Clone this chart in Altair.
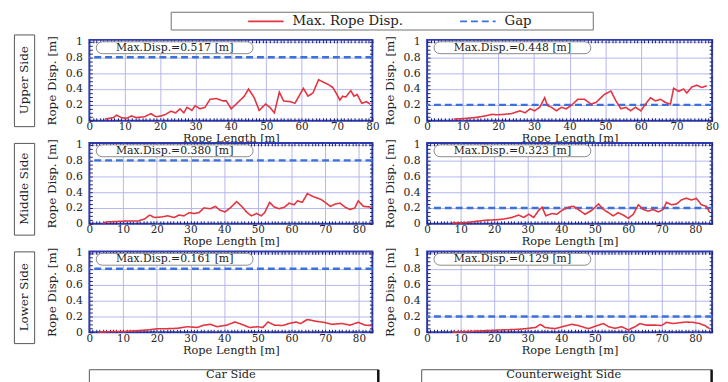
import altair as alt
import pandas as pd

FONT = "DejaVu Serif"
RED = "#e3343f"
GAPC = "#3b72d9"
FRAME = "#2f3db4"
GRID = "#b4b6ee"
NAVY = "#1d1f6b"
TXT = "#222222"

# ---------------- data ----------------
series_names = ["Max. Rope Disp.", "Gap"]
row_labels = ["Upper Side", "Middle Side", "Lower Side"]
col_labels = ["Car Side", "Counterweight Side"]
max_disp = [["0.517", "0.448"], ["0.380", "0.323"], ["0.161", "0.129"]]
gap_values = [0.8, 0.2]
x_max = [[80, 80], [84, 85], [84, 85]]
x_ticks = [0, 10, 20, 30, 40, 50, 60, 70, 80]
y_ticks = [0, 0.2, 0.4, 0.6, 0.8, 1.0]
Y_MAX = 1.02

ul_len = [4.4, 6.8, 7.7, 9.0, 10.5, 11.9, 13.2, 15.6, 17.4, 18.8, 20.2, 21.6, 23.0, 24.4, 25.6,
          26.7, 27.6, 29.0, 29.9, 31.3, 32.7, 34.1, 35.9, 37.8, 38.7, 40.1, 41.5, 43.8, 45.0,
          46.6, 48.0, 49.8, 51.0, 52.3, 53.7, 54.9, 56.8, 58.1, 59.5, 60.5, 61.8, 63.2, 64.8,
          66.0, 67.4, 68.8, 70.0, 70.8, 71.6, 72.5, 73.9, 74.8, 75.7, 77.0, 78.3, 79.4]
ul_disp = [0.02, 0.04, 0.07, 0.04, 0.03, 0.06, 0.04, 0.05, 0.09, 0.05, 0.06, 0.08, 0.12, 0.10, 0.15,
           0.10, 0.17, 0.13, 0.19, 0.15, 0.17, 0.27, 0.28, 0.25, 0.25, 0.15, 0.21, 0.31, 0.40,
           0.29, 0.13, 0.21, 0.17, 0.10, 0.36, 0.25, 0.24, 0.22, 0.33, 0.41, 0.31, 0.35, 0.517,
           0.49, 0.46, 0.42, 0.33, 0.26, 0.31, 0.30, 0.38, 0.31, 0.33, 0.22, 0.24, 0.21]

ur_len = [7.5, 10.8, 13.5, 16.3, 18.2, 19.6, 21.4, 23.7, 26.1, 27.5, 28.9, 30.2, 31.6, 33.0, 33.8,
          34.9, 36.3, 37.7, 39.0, 40.4, 42.3, 44.2, 46.0, 47.4, 49.7, 51.6, 53.0, 54.4, 55.8,
          57.1, 58.5, 60.0, 61.3, 62.7, 64.1, 65.5, 66.9, 68.3, 69.2, 70.6, 72.0, 72.9, 74.3,
          75.7, 77.1, 78.5]
ur_disp = [0.02, 0.03, 0.04, 0.06, 0.08, 0.075, 0.08, 0.09, 0.125, 0.10, 0.15, 0.125, 0.17, 0.29, 0.19,
           0.17, 0.125, 0.17, 0.15, 0.19, 0.27, 0.27, 0.21, 0.23, 0.33, 0.375, 0.25, 0.15, 0.17,
           0.125, 0.17, 0.125, 0.21, 0.29, 0.25, 0.27, 0.23, 0.21, 0.41, 0.37, 0.40, 0.35, 0.425,
           0.448, 0.42, 0.44]

ml_len = [4.0, 5.7, 8.6, 11.5, 14.4, 16.4, 17.9, 19.3, 21.3, 23.2, 25.2, 26.6, 28.1, 29.6, 31.0,
          32.5, 34.0, 35.9, 37.4, 38.8, 40.3, 41.8, 43.7, 45.2, 46.6, 48.1, 49.6, 51.0, 52.0,
          53.5, 54.9, 56.4, 57.9, 59.3, 60.8, 61.8, 63.2, 64.7, 66.6, 68.6, 70.0, 71.5, 73.0,
          74.4, 75.9, 77.4, 78.8, 79.8, 81.3, 83.7]
ml_disp = [0.01, 0.025, 0.03, 0.035, 0.035, 0.06, 0.11, 0.08, 0.085, 0.10, 0.08, 0.11, 0.10, 0.14, 0.13,
           0.14, 0.20, 0.19, 0.22, 0.17, 0.15, 0.20, 0.28, 0.22, 0.15, 0.10, 0.13, 0.10, 0.14,
           0.27, 0.21, 0.19, 0.21, 0.26, 0.24, 0.29, 0.27, 0.38, 0.34, 0.31, 0.27, 0.22, 0.25,
           0.26, 0.21, 0.18, 0.20, 0.29, 0.22, 0.21]

mr_len = [7.5, 11.5, 14.5, 17.4, 20.4, 22.9, 25.3, 27.3, 28.8, 30.3, 31.8, 33.3, 34.3, 35.4, 37.2,
          38.7, 40.2, 42.2, 43.7, 45.1, 47.1, 49.1, 51.1, 52.6, 54.1, 55.5, 57.0, 58.5, 60.0,
          61.5, 63.0, 64.5, 65.9, 67.4, 68.9, 70.4, 71.4, 72.9, 74.4, 75.8, 77.3, 78.8, 80.3,
          81.8, 83.3, 84.3]
mr_disp = [0.01, 0.015, 0.03, 0.045, 0.05, 0.06, 0.08, 0.11, 0.08, 0.12, 0.08, 0.17, 0.21, 0.10, 0.13,
           0.12, 0.17, 0.21, 0.22, 0.18, 0.12, 0.17, 0.25, 0.18, 0.14, 0.10, 0.14, 0.11, 0.07,
           0.12, 0.24, 0.18, 0.16, 0.18, 0.15, 0.18, 0.27, 0.24, 0.25, 0.30, 0.323, 0.30, 0.32,
           0.24, 0.22, 0.14]

ll_len = [2.7, 6.6, 10.5, 14.4, 17.4, 20.3, 23.2, 26.1, 29.1, 32.0, 34.0, 35.9, 37.9, 40.8, 43.2,
          45.2, 47.6, 50.0, 51.5, 53.0, 54.9, 57.4, 59.3, 61.3, 62.7, 64.7, 67.1, 69.6, 72.0,
          74.9, 77.4, 79.8, 81.8, 83.7]
ll_disp = [0.0, 0.01, 0.01, 0.02, 0.03, 0.045, 0.045, 0.05, 0.07, 0.06, 0.09, 0.10, 0.07, 0.09, 0.13,
           0.10, 0.06, 0.07, 0.06, 0.13, 0.09, 0.085, 0.11, 0.13, 0.11, 0.161, 0.14, 0.125, 0.10,
           0.11, 0.09, 0.125, 0.09, 0.085]

lr_len = [7.5, 12.5, 17.4, 22.4, 26.3, 29.3, 32.3, 33.8, 35.2, 38.2, 40.2, 43.2, 45.1, 48.1, 51.1,
          52.6, 54.1, 56.0, 58.0, 60.0, 62.0, 63.5, 65.4, 67.9, 69.9, 71.4, 73.4, 75.3, 77.3,
          79.3, 81.3, 82.8, 84.3]
lr_disp = [0.0, 0.01, 0.02, 0.03, 0.035, 0.045, 0.06, 0.10, 0.06, 0.045, 0.07, 0.10, 0.085, 0.045, 0.09,
           0.11, 0.07, 0.05, 0.07, 0.03, 0.07, 0.11, 0.09, 0.09, 0.085, 0.125, 0.11, 0.12, 0.129,
           0.125, 0.11, 0.085, 0.045]

len_data = [[ul_len, ur_len], [ml_len, mr_len], [ll_len, lr_len]]
disp_data = [[ul_disp, ur_disp], [ml_disp, mr_disp], [ll_disp, lr_disp]]

# ---------------- layout ----------------
PANEL_W = [287, 289]
PANEL_H = 82
LABEL_W = 20.5
LABEL_H = 93
FOOT_H = 31
FOOT_BOX = [(0, 293), (-5.5, 288.5)]

color_scale = alt.Scale(domain=series_names, range=[RED, GAPC])
dash_scale = alt.Scale(domain=series_names, range=[[1, 0], [7, 4]])


def tick_axis(orient, count):
    return alt.Axis(orient=orient, offset=-3, tickCount=count, ticks=True, tickSize=3,
                    tickWidth=1, tickColor=NAVY, domain=False, labels=False, grid=False,
                    title=None)


def panel(r, c):
    xmax = x_max[r][c]
    df = pd.DataFrame({"L": len_data[r][c], "D": disp_data[r][c], "series": series_names[0]})
    gap_df = pd.DataFrame({"gap": [gap_values[c]], "series": [series_names[1]]})
    ann_df = pd.DataFrame({"txt": ["Max.Disp.=" + max_disp[r][c] + " [m]"]})
    xs = alt.Scale(domain=[0, xmax], nice=False, zero=False)
    ys = alt.Scale(domain=[0, Y_MAX], nice=False, zero=False)

    x_main = alt.Axis(orient="bottom", values=x_ticks, grid=True,
                      gridColor={"condition": {"test": f"datum.value <= 0 || datum.value >= {xmax}",
                                               "value": "transparent"}, "value": GRID},
                      gridWidth=1, ticks=False, domain=False, labelPadding=1,
                      labelFlush=False, labelOverlap=False, labelFontSize=10.5,
                      title="Rope Length [m]", titlePadding=1, titleFontSize=11.5)
    y_main = alt.Axis(orient="left", values=y_ticks, format="~g", grid=True,
                      gridColor={"condition": {"test": "datum.value <= 0", "value": "transparent"},
                                 "value": GRID},
                      gridWidth=1, ticks=False, domain=False, labelPadding=7,
                      labelOverlap=False, title="Rope Disp. [m]", titlePadding=7,
                      titleFontSize=12)

    with_legend = (r == 0 and c == 0)
    if with_legend:
        leg = alt.Legend(orient="none", legendX=172, legendY=-26, direction="horizontal",
                         title=None, symbolType="M-3,0H3", symbolSize=144,
                         symbolStrokeWidth=2, labelOffset=20, columnPadding=53, padding=0,
                         labelFont=FONT, labelFontSize=13.5, labelColor=TXT)
        color = alt.Color("series:N", scale=color_scale, legend=leg)
        dash = alt.StrokeDash("series:N", scale=dash_scale, legend=leg)
    else:
        color = alt.Color("series:N", scale=color_scale, legend=None)
        dash = alt.StrokeDash("series:N", scale=dash_scale, legend=None)

    rule = alt.Chart(gap_df).mark_rule(strokeWidth=2.5).encode(
        y=alt.Y("gap:Q", scale=ys, axis=None), color=color, strokeDash=dash)
    line = alt.Chart(df).mark_line(strokeWidth=1.6).encode(
        x=alt.X("L:Q", scale=xs, axis=x_main),
        y=alt.Y("D:Q", scale=ys, axis=y_main),
        color=color, strokeDash=dash)
    t1 = alt.Chart(df).mark_line(strokeOpacity=0).encode(
        x=alt.X("L:Q", scale=xs, axis=tick_axis("bottom", xmax)),
        y=alt.Y("D:Q", scale=ys, axis=tick_axis("left", 20)))
    t2 = alt.Chart(df).mark_line(strokeOpacity=0).encode(
        x=alt.X("L:Q", scale=xs, axis=tick_axis("top", xmax)),
        y=alt.Y("D:Q", scale=ys, axis=tick_axis("right", 20)))
    box = alt.Chart(ann_df).mark_rect(fill="white", stroke="#8a8a8a", strokeWidth=1,
                                      cornerRadius=6).encode(
        x=alt.value(7), x2=alt.value(166), y=alt.value(2), y2=alt.value(14))
    txt = alt.Chart(ann_df).mark_text(font=FONT, fontSize=11, color=TXT).encode(
        text="txt:N", x=alt.value(86.5), y=alt.value(8))
    layers = [rule, line, t1, t2, box, txt]
    if with_legend:
        lbox = alt.Chart(ann_df).mark_rect(fill="transparent", stroke="#707070",
                                           strokeWidth=1).encode(
            x=alt.value(83), x2=alt.value(511), y=alt.value(-28), y2=alt.value(-10))
        layers.append(lbox)
    return alt.layer(*layers).resolve_axis(x="independent", y="independent").properties(
        width=PANEL_W[c], height=PANEL_H,
        view=alt.ViewBackground(stroke=FRAME, strokeWidth=2, fill="white"))


def label_chart(r):
    d = pd.DataFrame({"t": [row_labels[r]]})
    return alt.Chart(d).mark_text(angle=270, font=FONT, fontSize=12, color=TXT).encode(
        text="t:N").properties(width=LABEL_W, height=LABEL_H,
                               view=alt.ViewBackground(stroke="#555555", strokeWidth=1,
                                                       fill="white"))


def foot(c):
    d = pd.DataFrame({"t": [col_labels[c]]})
    x0, x1 = FOOT_BOX[c]
    frame = alt.Chart(d).mark_rect(fill="white", stroke="#555555", strokeWidth=1).encode(
        x=alt.value(x0), x2=alt.value(x1), y=alt.value(10), y2=alt.value(45))
    edge = alt.Chart(d).mark_rule(color="#111111", strokeWidth=2.5).encode(
        x=alt.value(x1), y=alt.value(10), y2=alt.value(45))
    label = alt.Chart(d).mark_text(font=FONT, fontSize=11.5, color=TXT).encode(
        text="t:N", x=alt.value((x0 + x1) / 2 - 3), y=alt.value(15))
    return alt.layer(frame, edge, label).properties(
        width=PANEL_W[c], height=FOOT_H, view=alt.ViewBackground(stroke="transparent"))


blank = alt.Chart(pd.DataFrame({"t": [""]})).mark_text(font=FONT).encode(
    text="t:N").properties(width=LABEL_W, height=FOOT_H,
                           view=alt.ViewBackground(stroke="transparent"))

cells = []
for r in range(3):
    cells += [label_chart(r), panel(r, 0), panel(r, 1)]
cells += [blank, foot(0), foot(1)]

chart = alt.concat(*cells, columns=3, spacing={"row": 17, "column": 55.5}).properties(
    align="each", bounds="flush", center={"row": True, "column": False},
    padding={"left": 5, "top": 0, "right": 0, "bottom": 0}, background="white"
).resolve_scale(color="independent", strokeDash="independent").resolve_legend(
    color="independent", strokeDash="independent"
).configure_axis(
    labelFont=FONT, titleFont=FONT, labelFontSize=11, titleFontSize=12,
    labelColor=TXT, titleColor=TXT, titleFontWeight="normal"
).configure_text(font=FONT).configure_legend(labelFont=FONT)

chart.save("out.html", embed_options={"renderer": "svg", "actions": False})
